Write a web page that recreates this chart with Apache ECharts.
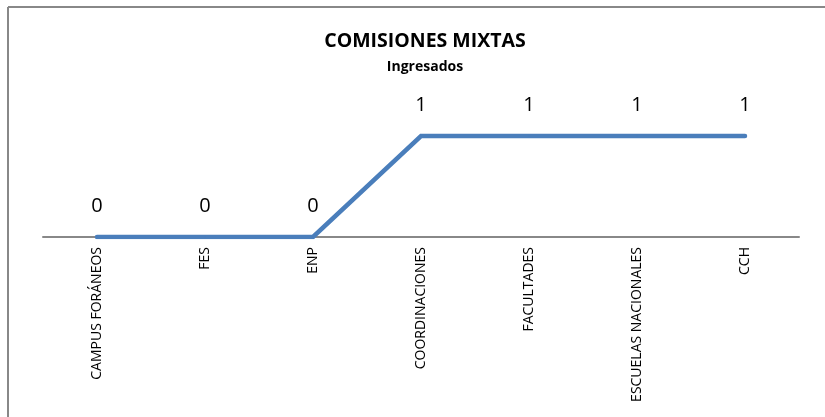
<!DOCTYPE html>
<html>
<head>
<meta charset="utf-8">
<script src="https://cdn.jsdelivr.net/npm/echarts@6/dist/echarts.min.js"></script>
<style>
  html, body { margin: 0; padding: 0; background: #fff; }
  #chart { width: 825px; height: 417px; }
</style>
</head>
<body>
<div id="chart"></div>
<script>
var categories = ['CAMPUS FORÁNEOS', 'FES', 'ENP', 'COORDINACIONES', 'FACULTADES', 'ESCUELAS NACIONALES', 'CCH'];
var ingresados = [0, 0, 0, 1, 1, 1, 1];

var myChart = echarts.init(document.getElementById('chart'));
var fontName = '"Open Sans", "Liberation Sans", sans-serif';

var option = {
    animation: false,
    title: {
        text: 'COMISIONES MIXTAS',
        subtext: 'Ingresados',
        left: 420,
        textAlign: 'center',
        top: 26,
        itemGap: 9,
        textStyle: { fontFamily: fontName, fontSize: 19.5, fontWeight: 'bold', color: '#000' },
        subtextStyle: { fontFamily: fontName, fontSize: 14, fontWeight: 'bold', color: '#000' }
    },
    graphic: [
        { type: 'line', shape: { x1: 8, y1: 7, x2: 825, y2: 7 }, style: { stroke: '#888', lineWidth: 2 } },
        { type: 'line', shape: { x1: 8, y1: 7, x2: 8, y2: 417 }, style: { stroke: '#888', lineWidth: 2 } }
    ],
    grid: { left: 43, right: 26, top: 35, bottom: 180 },
    xAxis: {
        type: 'category',
        data: categories,
        boundaryGap: true,
        axisLine: { lineStyle: { color: '#888', width: 2 } },
        axisTick: { show: false },
        axisLabel: {
            rotate: 90,
            interval: 0,
            margin: 10,
            fontFamily: fontName,
            fontSize: 14,
            color: '#000'
        }
    },
    yAxis: {
        type: 'value',
        min: 0,
        max: 2,
        show: false
    },
    series: [
        {
            name: 'Ingresados',
            type: 'line',
            data: ingresados,
            symbol: 'circle',
            symbolSize: 2,
            showSymbol: true,
            itemStyle: { color: '#4A7EBB' },
            lineStyle: { color: '#4A7EBB', width: 4.5, cap: 'round', join: 'miter' },
            label: {
                show: true,
                position: 'top',
                distance: 20,
                fontFamily: fontName,
                fontSize: 20,
                color: '#000'
            }
        }
    ]
};

myChart.setOption(option);
</script>
</body>
</html>
